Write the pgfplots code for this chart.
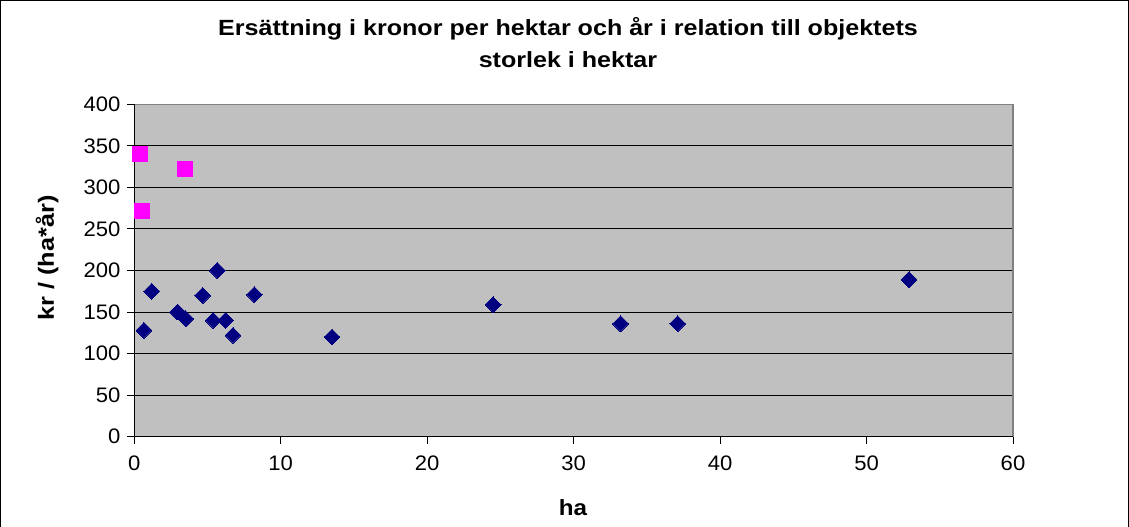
\documentclass[border=0pt]{standalone}
\usepackage{pgfplots}
\pgfplotsset{compat=1.18}
\usepackage{fontspec}
\setmainfont{Liberation Sans}
\definecolor{plotgray}{RGB}{192,192,192}
\definecolor{navyblue}{RGB}{0,0,128}
\definecolor{pinkmag}{RGB}{255,0,255}
\definecolor{edgegray}{RGB}{128,128,128}
\begin{document}
\begin{tikzpicture}[x=1pt,y=1pt]
\path[use as bounding box] (0,0) rectangle (1129,527);
\draw[black, line width=1pt] (0.5,0) -- (0.5,526.5) -- (1128.5,526.5) -- (1128.5,0);
\begin{axis}[
  at={(134.3pt,90.3pt)}, anchor=south west,
  scale only axis, width=878.7pt, height=332.4pt,
  xmin=0, xmax=60, ymin=0, ymax=400,
  xtick={0,10,...,60}, ytick={0,50,...,400},
  xtick pos=bottom, ytick pos=left,
  tick align=outside, major tick length=7pt,
  tick style={black, line width=1pt},
  ymajorgrids, grid style={black, line width=1pt},
  axis background/.style={fill=plotgray},
  axis line style={edgegray, line width=1.5pt},
  tick label style={font=\fontsize{21}{24}\selectfont, xscale=1.05},
  /pgf/number format/assume math mode=true,
  xticklabel style={yshift=-9pt},
  yticklabel style={xshift=-3pt},
  clip=false,
]
\addplot[only marks, mark=square*, mark size=5.6pt, mark options={rotate=45, fill=navyblue, draw=navyblue, line width=0pt}]
coordinates {
(0.66,128) (1.19,175) (2.96,150) (3.51,142) (4.67,170) (5.67,200)
(5.38,140) (6.24,140) (6.74,122) (8.2,171) (13.5,120) (24.5,159)
(33.2,136) (37.1,136) (52.9,189)
};
\addplot[only marks, mark=square*, mark size=7.5pt, mark options={fill=pinkmag, draw=pinkmag, line width=0pt}]
coordinates {
(0.39,340) (3.49,322) (0.5,272)
};
\draw[black, line width=1.5pt] (axis cs:0,400) -- (axis cs:0,0) -- (axis cs:60,0);
\end{axis}
\node[font=\bfseries\fontsize{22}{32}\selectfont, align=center, xscale=1.14] at (568,484)
  {Ersättning i kronor per hektar och år i relation till objektets\\storlek i hektar};
\node[font=\bfseries\fontsize{22}{24}\selectfont, rotate=90, xscale=1.15] at (47,269) {kr / (ha*år)};
\node[font=\bfseries\fontsize{22}{24}\selectfont, xscale=1.1] at (573,19) {ha};
\end{tikzpicture}
\end{document}
